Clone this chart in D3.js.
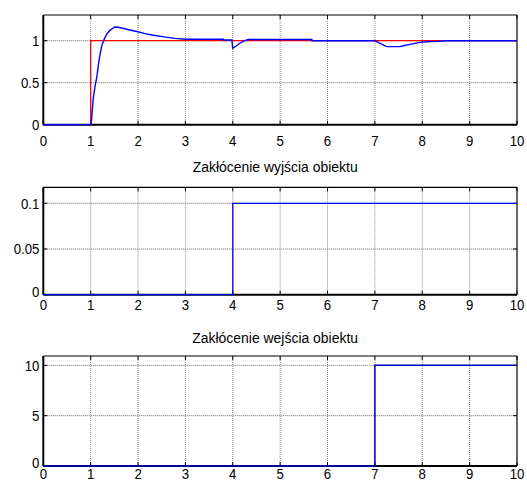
<!DOCTYPE html>
<html><head><meta charset="utf-8">
<script src="https://cdnjs.cloudflare.com/ajax/libs/d3/7.8.5/d3.min.js"></script>
<style>
html,body{margin:0;padding:0;background:#fff;}
svg{display:block;}
text{font-family:"Liberation Sans",Arial,sans-serif;fill:#000;}
</style></head><body>
<svg id="chart" width="527" height="488"></svg>
<script>
// ---- data ----
const xTicks = [0,1,2,3,4,5,6,7,8,9,10];
const titles = ["", "Zakłócenie wyjścia obiektu", "Zakłócenie wejścia obiektu"];

const refTime = [0,1,1,10];
const refValue = [0,0,1,1];

const respTime  = [0,1,1.02,1.05,1.09,1.13,1.18,1.23,1.28,1.34,1.41,1.51,1.58,1.7,1.8,2.0,2.15,2.29,2.55,2.78,3.0,3.8,3.8,3.98,4.0,4.08,4.15,4.25,4.33,5.67,5.67,7.0,7.1,7.25,7.53,7.6,7.74,7.95,8.16,8.35,8.51,10];
const respValue = [0,0,0.06,0.29,0.45,0.57,0.78,0.93,1.01,1.08,1.127,1.163,1.160,1.145,1.13,1.107,1.085,1.068,1.045,1.028,1.018,1.018,1.008,1.008,0.91,0.94,0.97,1.0,1.015,1.015,1.0,1.0,0.97,0.93,0.93,0.94,0.957,0.98,0.99,0.992,1.0,1.0];

const outDistTime = [0,4,4,10];
const outDistValue = [0,0,0.1,0.1];

const inDistTime = [0,7,7,10];
const inDistValue = [0,0,10,10];

const yTicks1 = [0,0.5,1];
const yTicks2 = [0,0.05,0.1];
const yTicks3 = [0,5,10];
const yLabels1 = ["0","0.5","1"];
const yLabels2 = ["0","0.05","0.1"];
const yLabels3 = ["0","5","10"];

// ---- layout ----
const svg = d3.select("#chart");
const left = 43.3, right = 517;
const panels = [
  {top:15, bottom:124.7, ymax:1.306, yTicks:yTicks1, yLabels:yLabels1, xLabelY:140.5, titleY:null,
   series:[{t:refTime, v:refValue, color:"#ff0000", w:1.3},{t:respTime, v:respValue, color:"#0000ff", w:1.4}]},
  {top:187.3, bottom:294.7, ymax:0.1175, yTicks:yTicks2, yLabels:yLabels2, xLabelY:305, titleY:167,
   series:[{t:outDistTime, v:outDistValue, color:"#0000ff", w:1.3}]},
  {top:356, bottom:466, ymax:10.93, yTicks:yTicks3, yLabels:yLabels3, xLabelY:474, titleY:337.5,
   series:[{t:inDistTime, v:inDistValue, color:"#0000cc", w:1.5}]}
];

const x = d3.scaleLinear().domain([0,10]).range([left,right]);

panels.forEach((p, i) => {
  const y = d3.scaleLinear().domain([0,p.ymax]).range([p.bottom,p.top]);
  const g = svg.append("g");

  // grid
  g.selectAll(".gx").data(xTicks.slice(1,-1)).enter().append("line")
    .attr("x1", d=>x(d)).attr("x2", d=>x(d)).attr("y1", p.top).attr("y2", p.bottom)
    .attr("stroke","#8a8a8a").attr("stroke-width",1).attr("stroke-dasharray","1,1");
  g.selectAll(".gy").data(p.yTicks.filter(d=>d>0)).enter().append("line")
    .attr("x1", left).attr("x2", right).attr("y1", d=>y(d)).attr("y2", d=>y(d))
    .attr("stroke","#6a6a6a").attr("stroke-width",1).attr("stroke-dasharray","1,1");

  // ticks (inward)
  const tl = 4;
  g.selectAll(".tb").data(xTicks).enter().append("line")
    .attr("x1", d=>x(d)).attr("x2", d=>x(d)).attr("y1", p.bottom).attr("y2", p.bottom-tl)
    .attr("stroke","#000").attr("stroke-width",1);
  g.selectAll(".tt").data(xTicks).enter().append("line")
    .attr("x1", d=>x(d)).attr("x2", d=>x(d)).attr("y1", p.top).attr("y2", p.top+tl)
    .attr("stroke","#000").attr("stroke-width",1);
  g.selectAll(".tlft").data(p.yTicks).enter().append("line")
    .attr("x1", left).attr("x2", left+tl).attr("y1", d=>y(d)).attr("y2", d=>y(d))
    .attr("stroke","#000").attr("stroke-width",1);
  g.selectAll(".trt").data(p.yTicks).enter().append("line")
    .attr("x1", right).attr("x2", right-tl).attr("y1", d=>y(d)).attr("y2", d=>y(d))
    .attr("stroke","#000").attr("stroke-width",1);

  // box
  g.append("line").attr("x1",left).attr("x2",right).attr("y1",p.top).attr("y2",p.top).attr("stroke","#000").attr("stroke-width",1.2);
  g.append("line").attr("x1",right).attr("x2",right).attr("y1",p.top).attr("y2",p.bottom).attr("stroke","#000").attr("stroke-width",1.2);
  g.append("line").attr("x1",left).attr("x2",right).attr("y1",p.bottom).attr("y2",p.bottom).attr("stroke","#000").attr("stroke-width",2);
  g.append("line").attr("x1",left).attr("x2",left).attr("y1",p.top).attr("y2",p.bottom).attr("stroke","#000").attr("stroke-width",2);

  // series
  const line = d3.line().x(d=>x(d[0])).y(d=>y(d[1]));
  p.series.forEach(s => {
    const pts = s.t.map((t,k)=>[t, s.v[k]]);
    g.append("path").attr("d", line(pts)).attr("fill","none")
      .attr("stroke", s.color).attr("stroke-width", s.w);
  });

  // x labels
  g.selectAll(".xl").data(xTicks).enter().append("text")
    .attr("transform", d=>`translate(${x(d)},${p.xLabelY}) scale(0.88,1)`)
    .attr("text-anchor","middle").attr("dy","0.36em")
    .style("font-size","15px").text(d=>String(d));
  // y labels
  g.selectAll(".yl").data(p.yTicks).enter().append("text")
    .attr("transform", (d,k)=>`translate(${left-4},${y(d) - (k===0 && i>0 ? 3 : 0)}) scale(0.88,1)`)
    .attr("text-anchor","end").attr("dy","0.36em")
    .style("font-size","15px").text((d,k)=>p.yLabels[k]);

  // title
  if (p.titleY !== null) {
    g.append("text")
      .attr("transform", `translate(${(left+right)/2 - 5},${p.titleY}) scale(0.93,1)`)
      .attr("text-anchor","middle").attr("dy","0.36em")
      .style("font-size","15px").text(titles[i]);
  }
});
</script>
</body></html>
